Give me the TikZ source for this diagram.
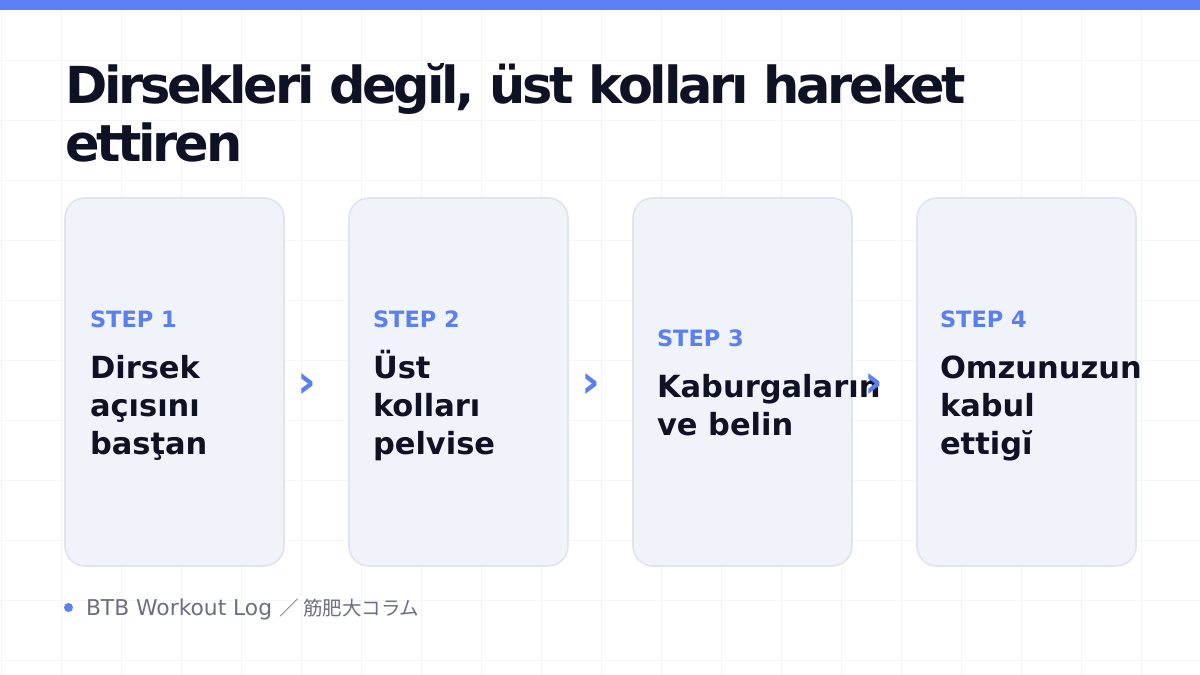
\documentclass[tikz,border=0pt]{standalone}
\usepackage{fontspec}
\setmainfont{DejaVu Sans}
\newfontfamily\titlef[LetterSpace=-6.3]{DejaVu Sans}
\newfontfamily\cjkf{Noto Sans CJK JP}
\definecolor{barblue}{RGB}{91,127,245}
\definecolor{gridc}{RGB}{244,245,248}
\definecolor{cardfill}{RGB}{241,243,251}
\definecolor{cardborder}{RGB}{224,228,240}
\definecolor{ink}{RGB}{15,18,36}
\definecolor{stepblue}{RGB}{90,127,239}
\definecolor{footgray}{RGB}{107,112,128}
\tikzset{
  card/.style={draw=cardborder, line width=1.6pt, fill=cardfill, rounded corners=20pt,
    minimum width=219pt, minimum height=368pt, inner sep=0pt},
  txt/.style={anchor=base west, inner sep=0pt, outer sep=0pt},
  titletxt/.style={txt, text=ink, font=\titlef\bfseries\fontsize{51}{58}\selectfont},
  steplbl/.style={txt, text=stepblue, font=\bfseries\fontsize{22.5}{27}\selectfont},
  bodytxt/.style={txt, text=ink, font=\bfseries\fontsize{30.5}{37}\selectfont},
  chev/.style={inner sep=0pt, text=stepblue, font=\bfseries\fontsize{46}{46}\selectfont},
  foot/.style={txt, text=footgray, font=\fontsize{21.8}{26}\selectfont},
}
\begin{document}
\begin{tikzpicture}[x=1pt,y=-1pt]
\useasboundingbox (0,0) rectangle (1200,675);
\fill[white] (0,0) rectangle (1200,675);
\foreach \x in {1,61,...,1200} \draw[gridc, line width=1pt] (\x,10) -- (\x,675);
\foreach \y in {60,120,...,675} \draw[gridc, line width=1pt] (0,\y) -- (1200,\y);
\fill[barblue] (0,0) rectangle (1200,10);

\node[titletxt] (t1) at (65,103) {Dirsekleri degĭl, üst kolları hareket};
\node[titletxt] (t2) at (65,161) {ettiren};

\node[card] (c1) at (174.5,382) {};
\node[card] (c2) at (458.5,382) {};
\node[card] (c3) at (742.5,382) {};
\node[card] (c4) at (1026.5,382) {};

\node[steplbl] (s1) at (90,327) {STEP 1};
\node[bodytxt] (b11) at (90,378) {Dirsek};
\node[bodytxt] (b12) at (90,416) {açısını};
\node[bodytxt] (b13) at (90,454) {basţan};

\node[steplbl] (s2) at (373,327) {STEP 2};
\node[bodytxt] (b21) at (373,378) {Üst};
\node[bodytxt] (b22) at (373,416) {kolları};
\node[bodytxt] (b23) at (373,454) {pelvise};

\node[steplbl] (s3) at (657,346) {STEP 3};
\node[bodytxt] (b31) at (657,397) {Kaburgaların};
\node[bodytxt] (b32) at (657,435) {ve belin};

\node[steplbl] (s4) at (940,327) {STEP 4};
\node[bodytxt] (b41) at (940,378) {Omzunuzun};
\node[bodytxt] (b42) at (940,416) {kabul};
\node[bodytxt] (b43) at (940,454) {ettigĭ};

\node[chev] (a1) at (307,385.5) {›};
\node[chev] (a2) at (591,385.5) {›};
\node[chev] (a3) at (874,385.5) {›};

\node[circle, fill=barblue, minimum size=9pt, inner sep=0pt] (dot) at (68.5,607.5) {};
\node[foot] (ft) at (86,615) {BTB Workout Log\hspace{7pt}{\cjkf\fontsize{19.5}{24}\selectfont ／ 筋肥大コラム}};
\end{tikzpicture}
\end{document}
